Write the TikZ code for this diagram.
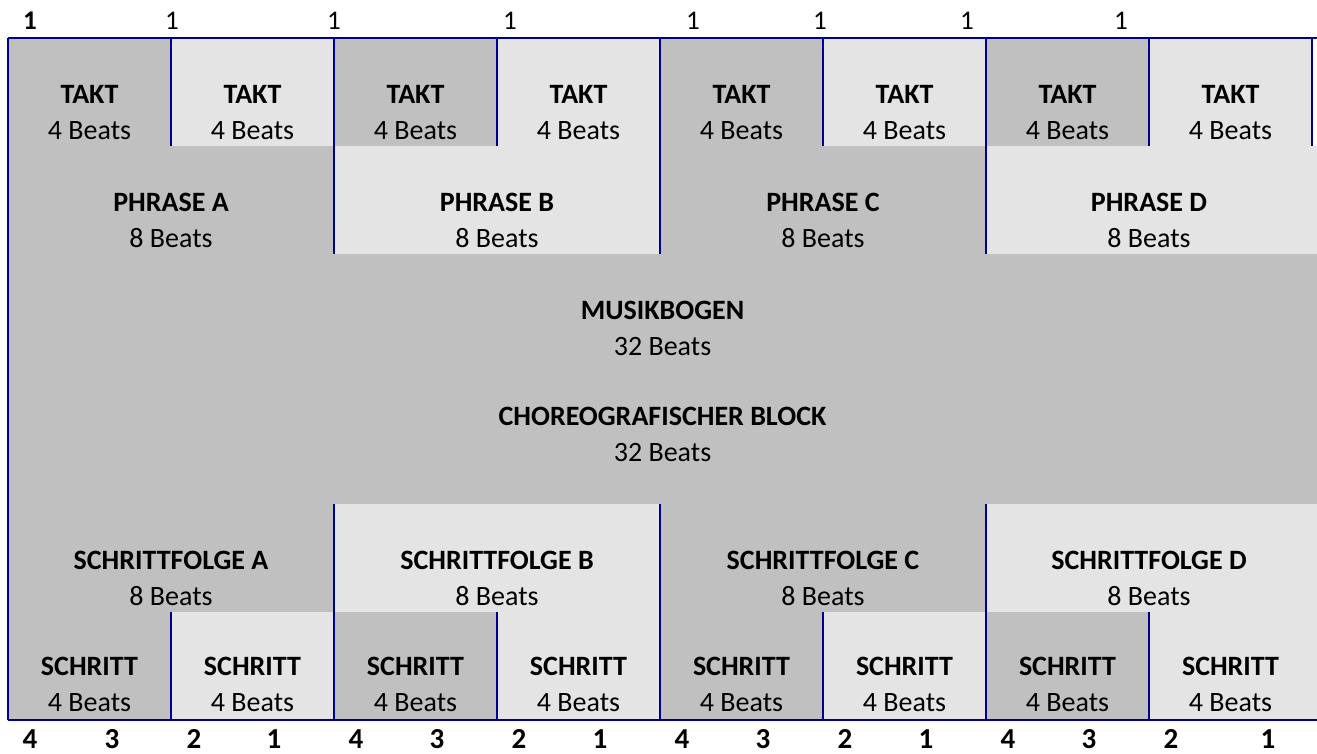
\documentclass[tikz,border=0pt]{standalone}
\usepackage{fontspec}
\setmainfont{Carlito}
\usetikzlibrary{positioning}
\definecolor{darkcell}{HTML}{C0C0C0}
\definecolor{lightcell}{HTML}{E4E4E4}
\definecolor{rulecol}{HTML}{00008C}

\begin{document}
\begin{tikzpicture}[x=1pt,y=-1pt]
    \tikzstyle{cell}=[rectangle,inner sep=0pt,outer sep=0pt,anchor=north west,minimum width=163pt,minimum height=108pt]
    \tikzstyle{dark}=[cell,fill=darkcell]
    \tikzstyle{light}=[cell,fill=lightcell]
    \tikzstyle{celltext}=[inner sep=0pt,align=center,font=\fontsize{28}{36}\selectfont]
    \tikzstyle{ruleline}=[draw=rulecol,line width=2pt]
    \tikzstyle{tally}=[inner sep=0pt,anchor=base,font=\fontsize{27}{30}\selectfont]
    \path[fill=white,use as bounding box] (0,0) rectangle (1317,753);
      % Takte
      \node[dark]  (T_1) at (8,38)    {};
      \node[light] (T_2) at (171,38)  {};
      \node[dark]  (T_3) at (334,38)  {};
      \node[light] (T_4) at (497,38)  {};
      \node[dark]  (T_5) at (660,38)  {};
      \node[light] (T_6) at (823,38)  {};
      \node[dark]  (T_7) at (986,38)  {};
      \node[light] (T_8) at (1149,38) {};
      % Phrasen
      \node[dark,minimum width=326pt]  (P_1) at (8,146)   {};
      \node[light,minimum width=326pt] (P_2) at (334,146) {};
      \node[dark,minimum width=326pt]  (P_3) at (660,146) {};
      \node[light,minimum width=331pt] (P_4) at (986,146) {};
      % Musikbogen / Block
      \node[dark,minimum width=1309pt,minimum height=250pt] (M) at (8,254) {};
      % Schrittfolgen
      \node[dark,minimum width=326pt]  (F_1) at (8,504)   {};
      \node[light,minimum width=326pt] (F_2) at (334,504) {};
      \node[dark,minimum width=326pt]  (F_3) at (660,504) {};
      \node[light,minimum width=331pt] (F_4) at (986,504) {};
      % Schritte
      \node[dark]  (S_1) at (8,612)    {};
      \node[light] (S_2) at (171,612)  {};
      \node[dark]  (S_3) at (334,612)  {};
      \node[light] (S_4) at (497,612)  {};
      \node[dark]  (S_5) at (660,612)  {};
      \node[light] (S_6) at (823,612)  {};
      \node[dark]  (S_7) at (986,612)  {};
      \node[light,minimum width=168pt] (S_8) at (1149,612) {};
      % Linien
      \draw[ruleline] (T_1.north west) -- (T_8.north east -| P_4.east);
      \draw[ruleline] (S_1.south west) -- (S_8.south east);
      \draw[ruleline] (T_1.north west) -- (S_1.south west);
      \draw[ruleline] (T_2.north west) -- (T_2.south west);
      \draw[ruleline] (T_4.north west) -- (T_4.south west);
      \draw[ruleline] (T_6.north west) -- (T_6.south west);
      \draw[ruleline] (T_8.north west) -- (T_8.south west);
      \draw[ruleline] (T_8.north east) -- (T_8.south east);
      \draw[ruleline] (T_3.north west) -- (P_2.south west);
      \draw[ruleline] (T_5.north west) -- (P_3.south west);
      \draw[ruleline] (T_7.north west) -- (P_4.south west);
      \draw[ruleline] (F_2.north west) -- (S_3.south west);
      \draw[ruleline] (F_3.north west) -- (S_5.south west);
      \draw[ruleline] (F_4.north west) -- (S_7.south west);
      \draw[ruleline] (S_2.north west) -- (S_2.south west);
      \draw[ruleline] (S_4.north west) -- (S_4.south west);
      \draw[ruleline] (S_6.north west) -- (S_6.south west);
      \draw[ruleline] (S_8.north west) -- (S_8.south west);
      % Texte
      \node[celltext,above=6pt of T_1.south] (t_1) {\textbf{TAKT}\\4 Beats};
      \node[celltext,above=6pt of T_2.south] (t_2) {\textbf{TAKT}\\4 Beats};
      \node[celltext,above=6pt of T_3.south] (t_3) {\textbf{TAKT}\\4 Beats};
      \node[celltext,above=6pt of T_4.south] (t_4) {\textbf{TAKT}\\4 Beats};
      \node[celltext,above=6pt of T_5.south] (t_5) {\textbf{TAKT}\\4 Beats};
      \node[celltext,above=6pt of T_6.south] (t_6) {\textbf{TAKT}\\4 Beats};
      \node[celltext,above=6pt of T_7.south] (t_7) {\textbf{TAKT}\\4 Beats};
      \node[celltext,above=6pt of T_8.south] (t_8) {\textbf{TAKT}\\4 Beats};
      \node[celltext,above=6pt of P_1.south] (p_1) {\textbf{PHRASE A}\\8 Beats};
      \node[celltext,above=6pt of P_2.south] (p_2) {\textbf{PHRASE B}\\8 Beats};
      \node[celltext,above=6pt of P_3.south] (p_3) {\textbf{PHRASE C}\\8 Beats};
      \node[celltext,above=6pt of P_4.south,xshift=-2.5pt] (p_4) {\textbf{PHRASE D}\\8 Beats};
      \node[celltext,above=148pt of M.south] (m_1) {\textbf{MUSIKBOGEN}\\32 Beats};
      \node[celltext,above=42pt of M.south]  (m_2) {\textbf{CHOREOGRAFISCHER BLOCK}\\32 Beats};
      \node[celltext,above=6pt of F_1.south] (f_1) {\textbf{SCHRITTFOLGE A}\\8 Beats};
      \node[celltext,above=6pt of F_2.south] (f_2) {\textbf{SCHRITTFOLGE B}\\8 Beats};
      \node[celltext,above=6pt of F_3.south] (f_3) {\textbf{SCHRITTFOLGE C}\\8 Beats};
      \node[celltext,above=6pt of F_4.south,xshift=-2.5pt] (f_4) {\textbf{SCHRITTFOLGE D}\\8 Beats};
      \node[celltext,above=8pt of S_1.south] (s_1) {\textbf{SCHRITT}\\4 Beats};
      \node[celltext,above=8pt of S_2.south] (s_2) {\textbf{SCHRITT}\\4 Beats};
      \node[celltext,above=8pt of S_3.south] (s_3) {\textbf{SCHRITT}\\4 Beats};
      \node[celltext,above=8pt of S_4.south] (s_4) {\textbf{SCHRITT}\\4 Beats};
      \node[celltext,above=8pt of S_5.south] (s_5) {\textbf{SCHRITT}\\4 Beats};
      \node[celltext,above=8pt of S_6.south] (s_6) {\textbf{SCHRITT}\\4 Beats};
      \node[celltext,above=8pt of S_7.south] (s_7) {\textbf{SCHRITT}\\4 Beats};
      \node[celltext,above=8pt of S_8.south,xshift=-2.5pt] (s_8) {\textbf{SCHRITT}\\4 Beats};
      % Zaehlzeiten oben
      \node[tally,font=\fontsize{27}{30}\selectfont\bfseries] (o_1) at (30,29) {1};
      \node[tally] (o_2) at (172,29)  {1};
      \node[tally] (o_3) at (334,29)  {1};
      \node[tally] (o_4) at (510,29)  {1};
      \node[tally] (o_5) at (693,29)  {1};
      \node[tally] (o_6) at (820,29)  {1};
      \node[tally] (o_7) at (967,29)  {1};
      \node[tally] (o_8) at (1121,29) {1};
      % Zaehlzeiten unten
      \tikzstyle{beat}=[tally,font=\fontsize{29}{30}\selectfont\bfseries]
      \node[beat] (u_1)  at (30,748)    {4};
      \node[beat] (u_2)  at (112,748)   {3};
      \node[beat] (u_3)  at (194,748)   {2};
      \node[beat] (u_4)  at (274,748)   {1};
      \node[beat] (u_5)  at (356,748)   {4};
      \node[beat] (u_6)  at (437,748)   {3};
      \node[beat] (u_7)  at (519,748)   {2};
      \node[beat] (u_8)  at (600,748)   {1};
      \node[beat] (u_9)  at (682,748)   {4};
      \node[beat] (u_10) at (763,748)   {3};
      \node[beat] (u_11) at (845,748)   {2};
      \node[beat] (u_12) at (926,748)   {1};
      \node[beat] (u_13) at (1008,748)  {4};
      \node[beat] (u_14) at (1089,748)  {3};
      \node[beat] (u_15) at (1171,748)  {2};
      \node[beat] (u_16) at (1268,748)  {1};
    \end{tikzpicture}
\end{document}
